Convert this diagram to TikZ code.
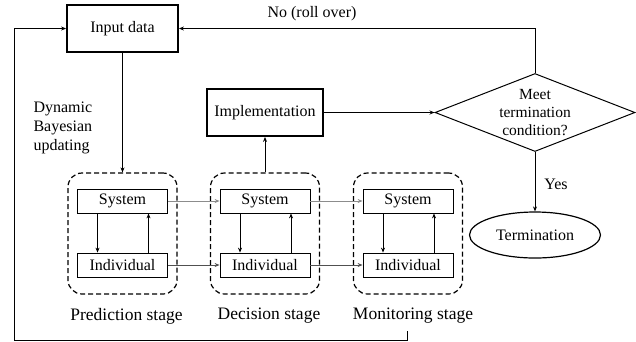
\documentclass[tikz,border=0pt]{standalone}
\usepackage{fontspec}
\setmainfont{Liberation Serif}
\usetikzlibrary{arrows.meta,shapes.geometric}
\definecolor{linkgray}{RGB}{140,140,140}
\definecolor{linkdark}{RGB}{80,80,80}
\tikzset{
  txt/.style={font=\fontsize{16}{19}\selectfont},
  mainbox/.style={txt, draw, line width=1.8pt, minimum height=47pt, inner sep=0pt},
  smallbox/.style={txt, draw, line width=0.8pt, minimum width=90pt, minimum height=24pt, inner sep=0pt},
  stagebox/.style={draw, dash pattern=on 5pt off 3pt, line width=1.2pt, rounded corners=14pt,
    minimum width=109pt, minimum height=121pt},
  flow/.style={line width=0.9pt, -{Stealth[length=5pt,width=4pt]}},
}
\begin{document}
\begin{tikzpicture}[x=1pt,y=-1pt]
  \useasboundingbox (0,0) rectangle (636,341);

  \node[mainbox, minimum width=111pt] (input) at (122.5,28.5) {Input data};
  \node[mainbox, minimum width=116pt] (impl) at (265,112.5) {Implementation};
  \node[draw, shape=diamond, aspect=2.5, inner sep=0pt, line width=1pt, align=center,
    font=\fontsize{15.5}{18}\selectfont, minimum width=200pt, minimum height=78pt]
    (cond) at (535,112.5) {Meet\\termination\\condition?};
  \node[txt, draw, ellipse, line width=1.2pt, minimum width=131pt, minimum height=46pt]
    (term) at (535,235) {Termination};
  \node[txt, align=left, anchor=west] (dbu) at (30,127.5) {Dynamic\\Bayesian\\updating};
  \node[txt] (no) at (312,14) {No (roll over)};
  \node[txt] (yes) at (556,184) {Yes};

  % three stages
  \foreach \s/\x/\lx/\stg in {P/122.5/126.5/Prediction, D/265/269/Decision, M/408/413/Monitoring} {
    \node[stagebox] (stage\s) at (\x,233.5) {};
    \node[smallbox] (sys\s) at (\x,201) {System};
    \node[smallbox] (ind\s) at (\x,265) {Individual};
    \draw[flow] ([xshift=-25pt]sys\s.south) -- ([xshift=-25pt]ind\s.north);
    \draw[flow] ([xshift=26pt]ind\s.north) -- ([xshift=26pt]sys\s.south);
    \node[font=\fontsize{17.5}{20}\selectfont] (lab\s) at (\lx,316) {\stg{} stage};
  }

  \draw[flow, linkgray] (sysP) -- (sysD);
  \draw[flow, linkgray] (sysD) -- (sysM);
  \draw[flow, linkdark] (indP) -- (indD);
  \draw[flow, linkdark] (indD) -- (indM);

  \draw[flow] (input) -- (stageP);
  \draw[flow] (stageD) -- (impl);
  \draw[flow] (impl) -- (cond);
  \draw[flow] (cond.north) |- (input.east);
  \draw[flow] (cond) -- (term);

  % roll back loop
  \coordinate (back) at (407,331);
  \coordinate (corner) at (14,340.5);
  \draw[flow] (back) |- (corner) |- (input.west);
\end{tikzpicture}
\end{document}
